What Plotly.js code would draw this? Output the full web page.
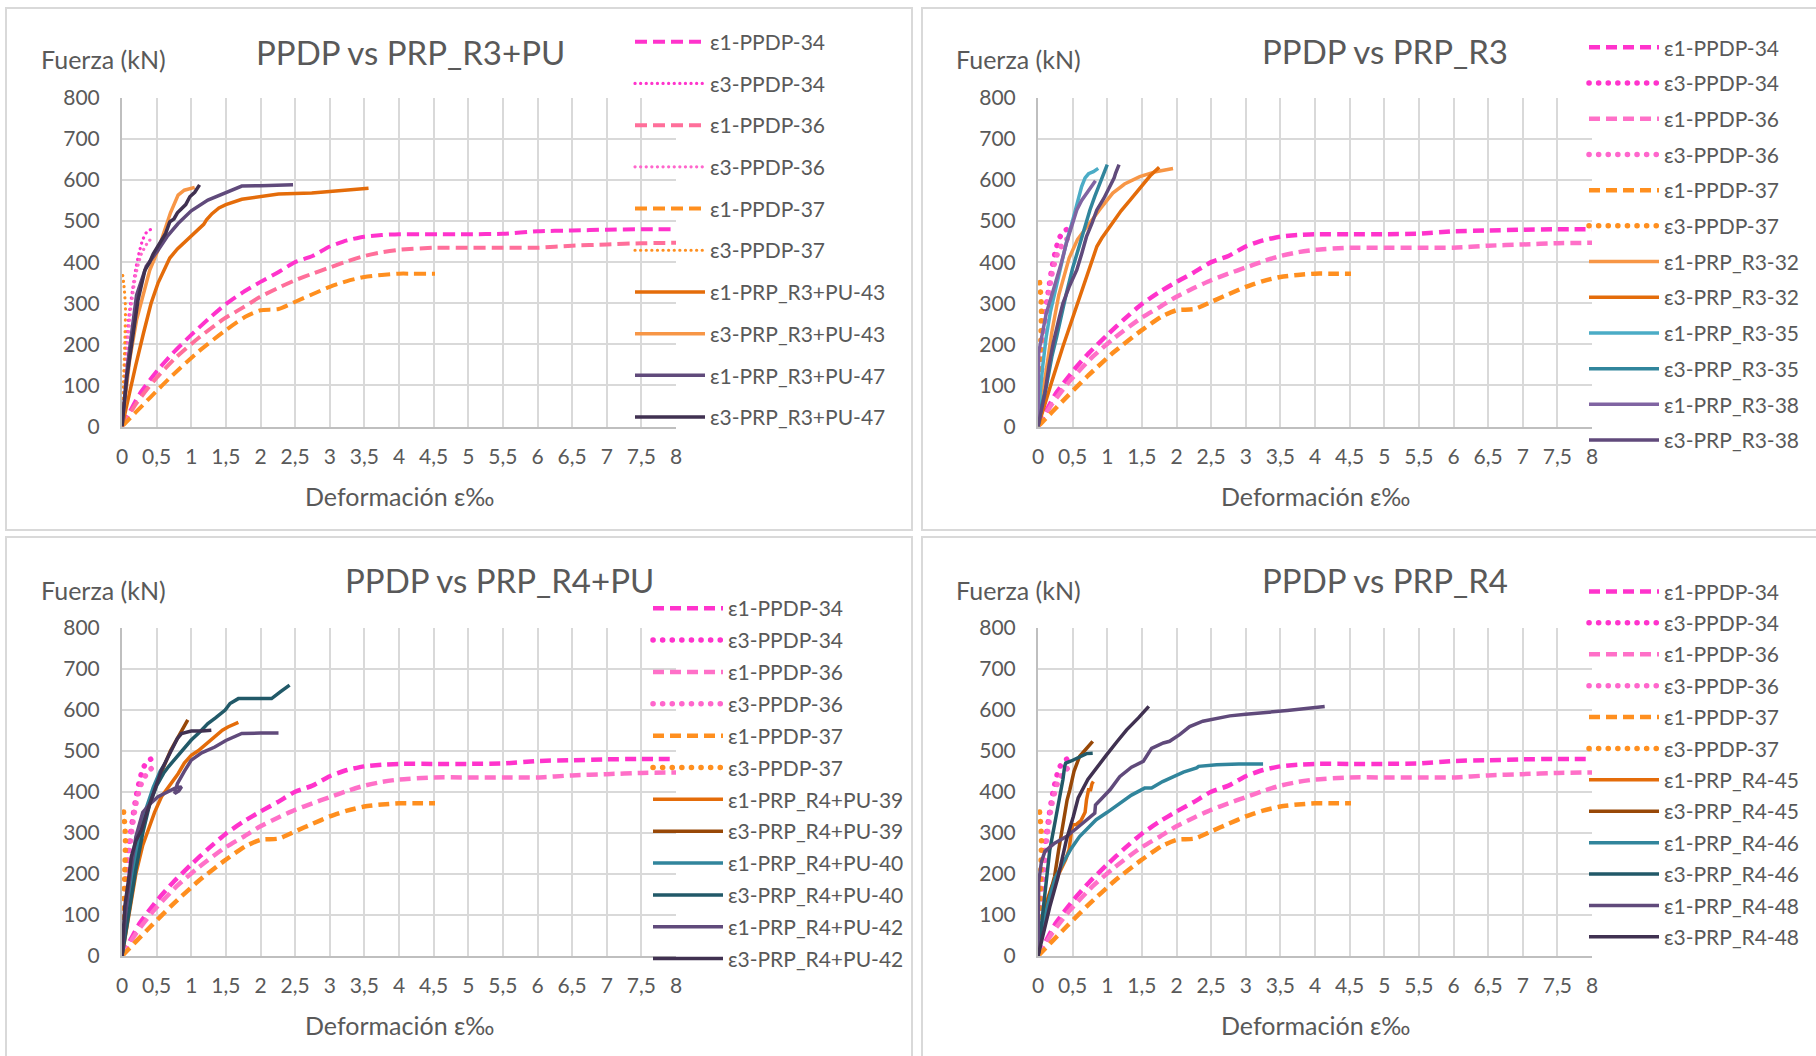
<!DOCTYPE html>
<html><head><meta charset="utf-8">
<script src="https://cdn.plot.ly/plotly-3.0.1.min.js"></script>
<style>html,body{margin:0;padding:0;background:#fff}#chart{width:1816px;height:1056px}</style>
</head><body><div id="chart"></div>
<script>
// ---------- axis ticks ----------
const xTickVals = [0,0.5,1,1.5,2,2.5,3,3.5,4,4.5,5,5.5,6,6.5,7,7.5,8];
const xTickText = ['0','0,5','1','1,5','2','2,5','3','3,5','4','4,5','5','5,5','6','6,5','7','7,5','8'];
const yTickVals = [0,100,200,300,400,500,600,700,800];
const panelTitles = ['PPDP vs PRP_R3+PU','PPDP vs PRP_R3','PPDP vs PRP_R4+PU','PPDP vs PRP_R4'];
const yAxisTitle = 'Fuerza (kN)';
const xAxisTitle = 'Deformación ε‰';

// ---------- PPDP reference series (shared by all panels) ----------
const e1_PPDP34_x = [0,0.1,0.26,0.52,0.73,1.0,1.25,1.5,1.75,2.0,2.25,2.5,2.75,3.0,3.25,3.5,3.75,4.0,4.5,5.0,5.5,6.0,6.5,7.0,7.5,8.0];
const e1_PPDP34_y = [0,32,81,138,178,223,262,298,327,352,375,400,415,438,453,462,466,468,468,468,469,475,477,479,480,480];
const e3_PPDP34_x = [0,0.03,0.06,0.1,0.15,0.2,0.25,0.3,0.36,0.42];
const e3_PPDP34_y = [0,100,200,270,330,385,425,455,474,480];
const e1_PPDP36_x = [0,0.21,0.47,0.79,1.1,1.47,1.75,2.0,2.25,2.5,2.75,3.0,3.25,3.5,3.75,4.0,4.5,5.0,5.5,6.0,6.5,7.0,7.5,8.0];
const e1_PPDP36_y = [0,57,113,170,215,262,290,316,337,356,372,387,402,415,424,430,435,435,435,435,440,443,446,447];
const e3_PPDP36_x = [0,0.04,0.08,0.13,0.2,0.28,0.38,0.45];
const e3_PPDP36_y = [0,100,200,290,370,420,450,460];
const e1_PPDP37_x = [0,0.2,0.42,0.73,1.1,1.47,1.78,2.0,2.26,2.52,2.75,3.0,3.25,3.5,3.75,4.0,4.2,4.52];
const e1_PPDP37_y = [0,35,73,125,182,231,267,283,286,305,322,340,354,364,369,372,372,372];
const e3_PPDP37_x = [0,0.02,0.04,0.05,0.03,0.01];
const e3_PPDP37_y = [0,100,200,290,340,368];

// ---------- Panel 1: PRP_R3+PU ----------
const e1_R3PU43_x = [0,0.1,0.2,0.31,0.42,0.52,0.6,0.69,0.8,0.9,1.0,1.1,1.18,1.22,1.3,1.4,1.5,1.73,2.0,2.26,2.5,2.74,3.0,3.22,3.4,3.56];
const e1_R3PU43_y = [0,80,150,227,300,349,380,410,432,448,462,478,492,503,518,532,540,553,559,566,567,568,572,575,578,580];
const e3_R3PU43_x = [0,0.11,0.21,0.3,0.4,0.52,0.62,0.7,0.81,0.9,1.05];
const e3_R3PU43_y = [0,162,259,320,380,429,478,520,563,575,582];
const e1_R3PU47_x = [0,0.08,0.21,0.35,0.52,0.65,0.81,1.0,1.24,1.5,1.73,2.0,2.47];
const e1_R3PU47_y = [0,150,320,390,429,462,494,525,551,568,585,586,588];
const e3_R3PU47_x = [0,0.07,0.135,0.23,0.33,0.4,0.45,0.57,0.63,0.69,0.75,0.8,0.86,0.92,0.98,1.05,1.12];
const e3_R3PU47_y = [0,120,195,307,380,400,420,454,470,498,505,520,531,540,559,570,588];

// ---------- Panel 2: PRP_R3 ----------
const e1_R3_32_x = [0,0.1,0.2,0.3,0.45,0.57,0.72,0.9,1.08,1.25,1.47,1.7,1.95];
const e1_R3_32_y = [0,120,230,320,410,455,490,530,568,590,608,620,628];
const e3_R3_32_x = [0,0.07,0.2,0.36,0.5,0.61,0.75,0.85,0.92,1.04,1.2,1.33,1.5,1.62,1.75];
const e3_R3_32_y = [0,40,110,195,265,324,390,438,458,487,525,551,585,610,631];
const e1_R3_35_x = [0,0.03,0.07,0.12,0.18,0.24,0.3,0.36,0.42,0.49,0.56,0.63,0.68,0.73,0.8,0.87];
const e1_R3_35_y = [0,80,150,220,280,324,370,414,455,495,540,584,605,615,620,628];
const e3_R3_35_x = [0,0.05,0.12,0.2,0.27,0.35,0.41,0.5,0.61,0.68,0.75,0.82,0.9,0.95,1.0];
const e3_R3_35_y = [0,50,97,170,219,285,324,385,446,490,527,560,592,615,637];
const e1_R3_38_x = [0,0.01,0.05,0.12,0.2,0.27,0.34,0.41,0.48,0.56,0.63,0.7,0.77,0.83];
const e1_R3_38_y = [0,180,215,276,320,357,400,446,485,527,550,568,585,598];
const e3_R3_38_x = [0,0.05,0.1,0.16,0.22,0.3,0.36,0.45,0.56,0.63,0.7,0.78,0.85,0.95,1.04,1.1,1.12,1.17];
const e3_R3_38_y = [0,40,81,150,203,260,300,340,381,420,462,495,527,555,584,605,616,637];

// ---------- Panel 3: PRP_R4+PU ----------
const e1_R4PU39_x = [0,0.1,0.2,0.3,0.38,0.47,0.57,0.7,0.81,0.9,1.0,1.1,1.2,1.34,1.45,1.53,1.68];
const e1_R4PU39_y = [0,100,200,270,307,350,388,420,444,470,489,500,515,534,550,558,569];
const e3_R4PU39_x = [0,0.1,0.2,0.3,0.4,0.5,0.6,0.7,0.8,0.85,0.88,0.92,0.95];
const e3_R4PU39_y = [0,150,250,320,380,420,460,500,530,545,555,570,575];
const e1_R4PU40_x = [0,0.06,0.15,0.25,0.35,0.45,0.55,0.6,0.62];
const e1_R4PU40_y = [0,100,200,290,360,410,450,462,462];
const e3_R4PU40_x = [0,0.1,0.2,0.3,0.4,0.5,0.6,0.67,0.8,1.0,1.12,1.24,1.35,1.49,1.56,1.68,2.0,2.16,2.3,2.42];
const e3_R4PU40_y = [0,110,210,300,370,415,445,461,487,526,545,566,580,599,615,627,627,627,645,660];
const e1_R4PU42_x = [0,0.05,0.12,0.2,0.3,0.4,0.52,0.65,0.78,0.86,0.82,0.76,0.8,0.9,1.0,1.15,1.34,1.5,1.73,2.0,2.26];
const e1_R4PU42_y = [0,100,200,290,350,370,388,400,410,412,402,396,420,450,477,495,509,525,542,543,543];
const e3_R4PU42_x = [0,0.02,0.04,0.09,0.135,0.2,0.28,0.35,0.42,0.5,0.57,0.65,0.71,0.8,0.86,0.95,1.0,1.15,1.29];
const e3_R4PU42_y = [0,60,120,180,242,280,307,345,380,420,453,480,501,530,542,546,548,548,550];

// ---------- Panel 4: PRP_R4 ----------
const e1_R4_45_x = [0,0.05,0.12,0.2,0.3,0.4,0.45,0.48,0.5,0.55,0.62,0.68,0.7,0.73,0.76,0.78,0.8];
const e1_R4_45_y = [0,60,130,170,200,235,260,300,320,320,330,350,380,405,405,420,425];
const e3_R4_45_x = [0,0.05,0.12,0.2,0.24,0.3,0.36,0.42,0.46,0.52,0.6,0.7,0.79];
const e3_R4_45_y = [0,60,120,170,194,260,324,380,405,450,486,505,523];
const e1_R4_46_x = [0,0.05,0.1,0.17,0.25,0.36,0.48,0.6,0.72,0.84,1.0,1.18,1.35,1.54,1.64,1.8,1.95,2.1,2.29,2.32,2.58,2.9,3.25];
const e1_R4_46_y = [0,50,95,145,190,226,262,291,313,332,350,372,392,409,409,425,437,448,458,462,466,468,468];
const e3_R4_46_x = [0,0.05,0.1,0.17,0.25,0.31,0.36,0.385,0.4,0.48,0.6,0.7,0.79];
const e3_R4_46_y = [0,80,160,258,330,380,430,462,470,475,486,493,494];
const e1_R4_48_x = [0,0.01,0.05,0.1,0.24,0.41,0.55,0.65,0.75,0.82,0.83,0.95,1.04,1.18,1.35,1.52,1.6,1.64,1.81,1.9,2.05,2.19,2.38,2.6,2.77,3.0,3.25,3.6,4.14];
const e1_R4_48_y = [0,180,230,255,275,291,310,324,338,348,368,390,405,437,460,474,495,506,519,523,540,559,572,580,585,589,592,598,608];
const e3_R4_48_x = [0,0.08,0.17,0.29,0.41,0.51,0.58,0.72,0.85,0.99,1.14,1.28,1.45,1.6];
const e3_R4_48_y = [0,60,120,193,283,340,385,430,460,490,522,551,580,608];

// ---------- styling / construction ----------
const FONT = 'Lato, "Open Sans", sans-serif';
const TXT = '#595959';
const W = 1816, H = 1056;
const px = v => v / W;
const py = v => 1 - v / H;

const panels = [
  {xa:'x', ya:'y', lg:'legend', big:false, pink36:'#FF6F9A'},
  {xa:'x2', ya:'y2', lg:'legend2', big:true, pink36:'#FF70C8'},
  {xa:'x3', ya:'y3', lg:'legend3', big:true, pink36:'#FF70C8'},
  {xa:'x4', ya:'y4', lg:'legend4', big:true, pink36:'#FF70C8'}
];

function tr(p, name, x, y, color, kind, spline) {
  const P = panels[p];
  let line;
  if (kind === 'dash') line = {color, width: P.big ? 4.5 : 4, dash: P.big ? '11px,6px' : '12px,6px'};
  else if (kind === 'dot') line = {color, width: P.big ? 5.5 : 3.2, dash: P.big ? '0.1px,9.5px' : '0.1px,5.5px'};
  else line = {color, width: 3.5};
  if (spline) { line.shape = 'spline'; line.smoothing = 0.6; }
  return {type:'scatter', mode:'lines', name, x, y, line, xaxis:P.xa, yaxis:P.ya,
          legend:P.lg, legendgroup:name + '_' + p, hoverinfo:'skip'};
}

function ppdp(p) {
  const P = panels[p];
  return [
    tr(p,'ε1-PPDP-34', e1_PPDP34_x, e1_PPDP34_y, '#FF33CC', 'dash', true),
    tr(p,'ε3-PPDP-34', e3_PPDP34_x, e3_PPDP34_y, '#FF33CC', 'dot', true),
    tr(p,'ε1-PPDP-36', e1_PPDP36_x, e1_PPDP36_y, P.pink36, 'dash', true),
    tr(p,'ε3-PPDP-36', e3_PPDP36_x, e3_PPDP36_y, '#FF66CC', 'dot', true),
    tr(p,'ε1-PPDP-37', e1_PPDP37_x, e1_PPDP37_y, '#FF8F1F', 'dash', true),
    tr(p,'ε3-PPDP-37', e3_PPDP37_x, e3_PPDP37_y, '#FF8F1F', 'dot', true)
  ];
}

const data = [].concat(
  ppdp(0),
  [tr(0,'ε1-PRP_R3+PU-43', e1_R3PU43_x, e1_R3PU43_y, '#E46C0A'),
   tr(0,'ε3-PRP_R3+PU-43', e3_R3PU43_x, e3_R3PU43_y, '#F79646'),
   tr(0,'ε1-PRP_R3+PU-47', e1_R3PU47_x, e1_R3PU47_y, '#604A7B'),
   tr(0,'ε3-PRP_R3+PU-47', e3_R3PU47_x, e3_R3PU47_y, '#403151')],
  ppdp(1),
  [tr(1,'ε1-PRP_R3-32', e1_R3_32_x, e1_R3_32_y, '#F79646'),
   tr(1,'ε3-PRP_R3-32', e3_R3_32_x, e3_R3_32_y, '#E46C0A'),
   tr(1,'ε1-PRP_R3-35', e1_R3_35_x, e1_R3_35_y, '#4BACC6'),
   tr(1,'ε3-PRP_R3-35', e3_R3_35_x, e3_R3_35_y, '#31859C'),
   tr(1,'ε1-PRP_R3-38', e1_R3_38_x, e1_R3_38_y, '#8064A2'),
   tr(1,'ε3-PRP_R3-38', e3_R3_38_x, e3_R3_38_y, '#604A7B')],
  ppdp(2),
  [tr(2,'ε1-PRP_R4+PU-39', e1_R4PU39_x, e1_R4PU39_y, '#E46C0A'),
   tr(2,'ε3-PRP_R4+PU-39', e3_R4PU39_x, e3_R4PU39_y, '#984807'),
   tr(2,'ε1-PRP_R4+PU-40', e1_R4PU40_x, e1_R4PU40_y, '#31859C'),
   tr(2,'ε3-PRP_R4+PU-40', e3_R4PU40_x, e3_R4PU40_y, '#215968'),
   tr(2,'ε1-PRP_R4+PU-42', e1_R4PU42_x, e1_R4PU42_y, '#604A7B'),
   tr(2,'ε3-PRP_R4+PU-42', e3_R4PU42_x, e3_R4PU42_y, '#403151')],
  ppdp(3),
  [tr(3,'ε1-PRP_R4-45', e1_R4_45_x, e1_R4_45_y, '#E46C0A'),
   tr(3,'ε3-PRP_R4-45', e3_R4_45_x, e3_R4_45_y, '#984807'),
   tr(3,'ε1-PRP_R4-46', e1_R4_46_x, e1_R4_46_y, '#31859C'),
   tr(3,'ε3-PRP_R4-46', e3_R4_46_x, e3_R4_46_y, '#215968'),
   tr(3,'ε1-PRP_R4-48', e1_R4_48_x, e1_R4_48_y, '#604A7B'),
   tr(3,'ε3-PRP_R4-48', e3_R4_48_x, e3_R4_48_y, '#403151')]
);

// plot-area pixel boxes [left, right, top, bottom]
const boxes = [[122,676,97.7,426.6],[1038,1592,97.7,426.6],[122,676,627.6,956],[1038,1592,627.6,956]];

function xa(b) {
  return {domain:[px(b[0]), px(b[1])], range:[0,8], tickvals:xTickVals, ticktext:xTickText,
    showgrid:true, gridcolor:'#D9D9D9', gridwidth:2, zeroline:false, showline:true,
    linecolor:'#BFBFBF', linewidth:2, ticks:'', ticklabelstandoff:10,
    tickfont:{family:FONT, size:21, color:TXT}, fixedrange:true};
}
function ya(b, anchor) {
  return {domain:[py(b[3]), py(b[2])], range:[0,800], tickvals:yTickVals, anchor,
    showgrid:true, gridcolor:'#D9D9D9', gridwidth:2, zeroline:false, showline:true,
    linecolor:'#BFBFBF', linewidth:2, ticks:'', ticklabelstandoff:16,
    tickfont:{family:FONT, size:21, color:TXT}, fixedrange:true};
}

function legendAt(xpx, ytop, gap) {
  return {x:px(xpx), y:py(ytop), xanchor:'left', yanchor:'top', xref:'paper', yref:'paper',
    bgcolor:'rgba(0,0,0,0)', borderwidth:0, itemwidth:70, tracegroupgap:gap,
    font:{family:FONT, size:21, color:TXT}, itemclick:false, itemdoubleclick:false};
}

const titleCenters = [[410,51.5],[1385,51],[499,580],[1385,580]];
const yTitleCenters = [[103,59],[1019,59],[103,590],[1019,590]];
const xTitleCenters = [[399,496],[1315,496],[399,1025],[1315,1025]];
const annotations = [];
for (let i = 0; i < 4; i++) {
  annotations.push({xref:'paper', yref:'paper', x:px(titleCenters[i][0]), y:py(titleCenters[i][1]),
    xanchor:'center', yanchor:'middle', showarrow:false, text:panelTitles[i],
    font:{family:FONT, size:33, color:TXT}});
  annotations.push({xref:'paper', yref:'paper', x:px(yTitleCenters[i][0]), y:py(yTitleCenters[i][1]),
    xanchor:'center', yanchor:'middle', showarrow:false, text:yAxisTitle,
    font:{family:FONT, size:25, color:TXT}});
  annotations.push({xref:'paper', yref:'paper', x:px(xTitleCenters[i][0]), y:py(xTitleCenters[i][1]),
    xanchor:'center', yanchor:'middle', showarrow:false, text:xAxisTitle,
    font:{family:FONT, size:25, color:TXT}});
}

const frames = [[6,912,8,530],[922,1830,8,530],[6,912,537,1070],[922,1830,537,1070]];
const shapes = frames.map(f => ({type:'rect', xref:'paper', yref:'paper',
  x0:px(f[0]), x1:px(f[1]), y0:py(f[3]), y1:py(f[2]), line:{color:'#D9D9D9', width:2}, layer:'below'}));

const layout = {
  width:W, height:H, margin:{l:0, r:0, t:0, b:0, pad:0},
  paper_bgcolor:'#FFFFFF', plot_bgcolor:'#FFFFFF',
  font:{family:FONT, color:TXT},
  xaxis:xa(boxes[0]), yaxis:ya(boxes[0],'x'),
  xaxis2:xa(boxes[1]), yaxis2:ya(boxes[1],'x2'),
  xaxis3:xa(boxes[2]), yaxis3:ya(boxes[2],'x3'),
  xaxis4:xa(boxes[3]), yaxis4:ya(boxes[3],'x4'),
  legend:legendAt(630, 21.6, 11.4),
  legend2:legendAt(1584, 27.2, 5.4),
  legend3:legendAt(648, 588.1, 1.55),
  legend4:legendAt(1584, 571.3, 1.1),
  annotations, shapes, showlegend:true
};
layout.xaxis.anchor='y'; layout.xaxis2.anchor='y2'; layout.xaxis3.anchor='y3'; layout.xaxis4.anchor='y4';

function roundDots() {
  document.querySelectorAll('path.js-line').forEach(function (el) {
    const da = el.style.strokeDasharray || '';
    if (da.indexOf('0.1') === 0) el.style.strokeLinecap = 'round';
  });
}
Plotly.newPlot('chart', data, layout, {displayModeBar:false}).then(roundDots);
</script></body></html>
